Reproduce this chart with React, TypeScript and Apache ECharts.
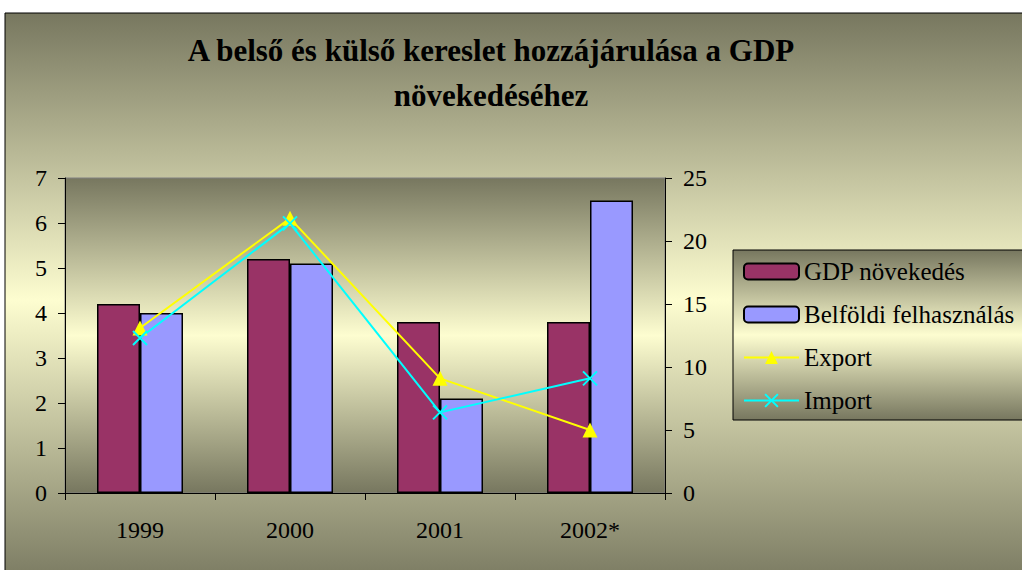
import React, { useEffect, useRef } from "react";
import * as echarts from "echarts";

const categories = ["1999", "2000", "2001", "2002*"];
const gdpGrowth = [4.2, 5.2, 3.8, 3.8];
const domesticUse = [4.0, 5.1, 2.1, 6.5];
const exportValues = [13.1, 21.8, 9.1, 5.0];
const importValues = [12.3, 21.4, 6.4, 9.1];
const titleLines = ["A belső és külső kereslet hozzájárulása a GDP", "növekedéséhez"];
const seriesNames = ["GDP növekedés", "Belföldi felhasználás", "Export", "Import"];

const FONT = "'Liberation Serif', 'Times New Roman', serif";

const grad = () =>
  new echarts.graphic.LinearGradient(0, 0, 0, 1, [
    { offset: 0, color: "#77775f" },
    { offset: 0.5, color: "#fdfdd0" },
    { offset: 1, color: "#77775f" },
  ]);

export default function App() {
  const ref = useRef<HTMLDivElement>(null);
  useEffect(() => {
    document.body.style.margin = "0";
    const chart = echarts.init(ref.current!, null, { renderer: "svg" });
    chart.setOption({
      animation: false,
      textStyle: { fontFamily: FONT },
      graphic: [
        {
          type: "rect",
          z: -10,
          shape: { x: 5, y: 13, width: 1030, height: 575 },
          style: { fill: grad(), stroke: "#000", lineWidth: 1 },
        },
        {
          type: "rect",
          z: -5,
          shape: { x: 733, y: 250, width: 300, height: 170 },
          style: { fill: grad(), stroke: "#000", lineWidth: 1 },
        },
        {
          type: "text",
          x: 491,
          y: 50,
          style: {
            text: titleLines[0],
            font: `bold 31px ${FONT}`,
            fill: "#000",
            align: "center",
            verticalAlign: "middle",
          },
        },
        {
          type: "text",
          x: 491,
          y: 95,
          style: {
            text: titleLines[1],
            font: `bold 31px ${FONT}`,
            fill: "#000",
            align: "center",
            verticalAlign: "middle",
          },
        },
      ],
      grid: {
        left: 65,
        right: 357,
        top: 178,
        bottom: 77,
        show: true,
        backgroundColor: grad(),
        borderColor: "#808080",
        borderWidth: 1,
      },
      legend: {
        orient: "vertical",
        left: 743,
        top: 259,
        padding: 0,
        itemWidth: 55,
        itemHeight: 16,
        itemGap: 18,
        data: seriesNames,
        textStyle: { fontFamily: FONT, fontSize: 25, color: "#000" },
      },
      xAxis: {
        type: "category",
        data: categories,
        axisLine: { lineStyle: { color: "#000", width: 1 } },
        axisTick: { show: true, length: 7, lineStyle: { color: "#000" } },
        axisLabel: { color: "#000", fontSize: 24, fontFamily: FONT, margin: 25 },
        splitLine: { show: false },
      },
      yAxis: [
        {
          type: "value",
          min: 0,
          max: 7,
          interval: 1,
          position: "left",
          axisLine: { show: true, lineStyle: { color: "#000" } },
          axisTick: { show: true, length: 7, lineStyle: { color: "#000" } },
          axisLabel: { color: "#000", fontSize: 24, fontFamily: FONT, margin: 18 },
          splitLine: { show: false },
        },
        {
          type: "value",
          min: 0,
          max: 25,
          interval: 5,
          position: "right",
          axisLine: { show: true, lineStyle: { color: "#000" } },
          axisTick: { show: true, length: 7, lineStyle: { color: "#000" } },
          axisLabel: { color: "#000", fontSize: 24, fontFamily: FONT, margin: 18 },
          splitLine: { show: false },
        },
      ],
      series: [
        {
          name: seriesNames[0],
          type: "bar",
          data: gdpGrowth,
          barWidth: 43,
          barGap: "0%",
          itemStyle: { color: "#993366", borderColor: "#000", borderWidth: 1.5 },
        },
        {
          name: seriesNames[1],
          type: "bar",
          data: domesticUse,
          barWidth: 43,
          barGap: "0%",
          itemStyle: { color: "#9999ff", borderColor: "#000", borderWidth: 1.5 },
        },
        {
          name: seriesNames[2],
          type: "line",
          yAxisIndex: 1,
          data: exportValues,
          symbol: "triangle",
          symbolSize: 15,
          lineStyle: { color: "#ffff00", width: 2 },
          itemStyle: { color: "#ffff00" },
        },
        {
          name: seriesNames[3],
          type: "line",
          yAxisIndex: 1,
          data: importValues,
          symbol: "path://M0,0L10,10M10,0L0,10",
          symbolSize: 14,
          lineStyle: { color: "#00ffff", width: 2 },
          itemStyle: { color: "#00ffff", borderColor: "#00ffff", borderWidth: 2 },
        },
      ],
    });
    return () => chart.dispose();
  }, []);
  return <div ref={ref} style={{ width: 1022, height: 570 }} />;
}
